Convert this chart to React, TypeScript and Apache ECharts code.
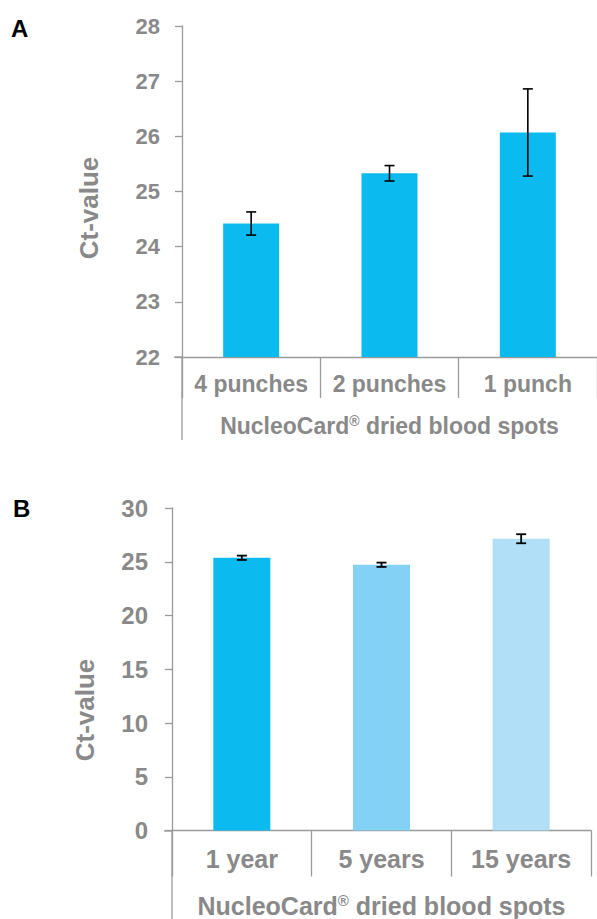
import React, { useEffect, useRef } from "react";
import * as echarts from "echarts";

const catsA = ["4 punches", "2 punches", "1 punch"];
const valsA = [24.42, 25.33, 26.07];
const errA = [0.21, 0.14, 0.79];

const catsB = ["1 year", "5 years", "15 years"];
const valsB = [25.37, 24.72, 27.14];
const errB = [0.2, 0.2, 0.42];

const colorA = "#0BBAEE";
const colorsB = ["#0BBAEE", "#83D1F5", "#B0DFF7"];

const yTicksA = { min: 22, max: 28, interval: 1 };
const yTicksB = { min: 0, max: 30, interval: 5 };

const xTitle = "NucleoCard{sup|®} dried blood spots";
const yTitle = "Ct-value";

const GRAY = "#898989";
const AXIS = "#9a9a9a";
const FONT = "'Liberation Sans', Arial, sans-serif";

function errRender(lw: number, cap: number) {
  return (params: any, api: any) => {
    const x = api.value(0);
    const lo = api.coord([x, api.value(1)]);
    const hi = api.coord([x, api.value(2)]);
    const st = { stroke: "#000", lineWidth: lw };
    return {
      type: "group",
      children: [
        { type: "line", shape: { x1: lo[0], y1: lo[1], x2: hi[0], y2: hi[1] }, style: st },
        { type: "line", shape: { x1: lo[0] - cap, y1: lo[1], x2: lo[0] + cap, y2: lo[1] }, style: st },
        { type: "line", shape: { x1: hi[0] - cap, y1: hi[1], x2: hi[0] + cap, y2: hi[1] }, style: st },
      ],
    };
  };
}

export default function App() {
  const ref = useRef<HTMLDivElement>(null);
  useEffect(() => {
    document.body.style.margin = "0";
    document.body.style.overflow = "hidden";
    const chart = echarts.init(ref.current!, undefined, { renderer: "svg" });

    const catAxis = (gridIndex: number, data: string[], fs: number, margin: number, tickLen: number, nameGap: number, nameFs: number) => ({
      type: "category",
      gridIndex,
      data,
      boundaryGap: true,
      axisLine: { show: true, lineStyle: { color: AXIS, width: 1.3 } },
      axisTick: { show: true, interval: 0, length: tickLen, alignWithLabel: false, lineStyle: { color: AXIS, width: 1.3 } },
      axisLabel: { interval: 0, color: GRAY, fontSize: fs, fontWeight: "bold", fontFamily: FONT, margin },
      name: xTitle,
      nameLocation: "middle",
      nameGap,
      nameTextStyle: {
        color: GRAY,
        fontSize: nameFs,
        fontWeight: "bold",
        fontFamily: FONT,
        rich: {
          sup: { fontSize: Math.round(nameFs * 0.6), fontWeight: "bold", color: GRAY, fontFamily: FONT, verticalAlign: "top", padding: [0, 0, Math.round(nameFs * 0.45), 0] },
        },
      },
    });

    const valAxis = (gridIndex: number, t: any, fs: number, margin: number) => ({
      type: "value",
      gridIndex,
      min: t.min,
      max: t.max,
      interval: t.interval,
      axisLine: { show: true, lineStyle: { color: AXIS, width: 1.3 } },
      axisTick: { show: true, length: 7, lineStyle: { color: AXIS, width: 1.3 } },
      splitLine: { show: false },
      axisLabel: { color: GRAY, fontSize: fs, fontWeight: "bold", fontFamily: FONT, margin },
    });

    chart.setOption({
      animation: false,
      backgroundColor: "#fff",
      grid: [
        { left: 182, top: 26, width: 423, height: 331 },
        { left: 172, top: 508, width: 419, height: 323 },
      ],
      xAxis: [
        catAxis(0, catsA, 23, 15, 41, 57, 23),
        catAxis(1, catsB, 25, 16, 46, 62, 25),
      ],
      yAxis: [valAxis(0, yTicksA, 22, 22), valAxis(1, yTicksB, 24, 24)],
      series: [
        {
          type: "bar",
          xAxisIndex: 0,
          yAxisIndex: 0,
          barWidth: 56,
          data: valsA,
          itemStyle: { color: colorA },
        },
        {
          type: "custom",
          xAxisIndex: 0,
          yAxisIndex: 0,
          renderItem: errRender(1.6, 5),
          data: valsA.map((v, i) => [i, v - errA[i], v + errA[i]]),
          z: 5,
        },
        {
          type: "bar",
          xAxisIndex: 1,
          yAxisIndex: 1,
          barWidth: 57,
          data: valsB.map((v, i) => ({ value: v, itemStyle: { color: colorsB[i] } })),
        },
        {
          type: "custom",
          xAxisIndex: 1,
          yAxisIndex: 1,
          renderItem: errRender(1.8, 5),
          data: valsB.map((v, i) => [i, v - errB[i], v + errB[i]]),
          z: 5,
        },
      ],
      graphic: [
        { type: "text", x: 11, y: 16, style: { text: "A", font: `bold 24px ${FONT}`, fill: "#000" } },
        { type: "text", x: 13, y: 496, style: { text: "B", font: `bold 24px ${FONT}`, fill: "#000" } },
        {
          type: "text", x: 89, y: 208, rotation: Math.PI / 2,
          style: { text: yTitle, font: `bold 26px ${FONT}`, fill: GRAY, align: "center", verticalAlign: "middle" },
        },
        {
          type: "text", x: 85, y: 710, rotation: Math.PI / 2,
          style: { text: yTitle, font: `bold 26px ${FONT}`, fill: GRAY, align: "center", verticalAlign: "middle" },
        },
        { type: "line", shape: { x1: 182, y1: 357, x2: 182, y2: 440 }, style: { stroke: AXIS, lineWidth: 1.3 } },
        { type: "line", shape: { x1: 174, y1: 357, x2: 182, y2: 357 }, style: { stroke: AXIS, lineWidth: 1.3 } },
        { type: "line", shape: { x1: 172, y1: 831, x2: 172, y2: 919 }, style: { stroke: AXIS, lineWidth: 1.3 } },
        { type: "line", shape: { x1: 164, y1: 831, x2: 172, y2: 831 }, style: { stroke: AXIS, lineWidth: 1.3 } },
      ],
    });
    return () => chart.dispose();
  }, []);
  return <div ref={ref} style={{ width: 597, height: 919 }} />;
}
